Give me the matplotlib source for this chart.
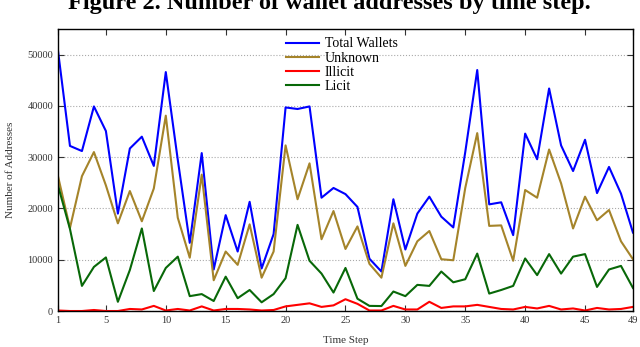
import matplotlib
matplotlib.use("Agg")
import matplotlib.pyplot as plt

steps = list(range(1, 50))

total = [50800, 32200, 31200, 39900, 35100, 19000, 31700, 34000, 28300, 46600,
         29500, 13300, 30800, 8100, 18700, 11600, 21300, 8300, 15000, 39700,
         39400, 39900, 22100, 24000, 22800, 20300, 10200, 7700, 21800, 12000,
         19000, 22300, 18400, 16300, 31000, 47000, 20800, 21200, 14800, 34600,
         29600, 43400, 32300, 27300, 33400, 23000, 28100, 22900, 15300]
unknown = [26300, 16200, 26300, 31000, 24500, 17100, 23400, 17500, 23900, 38100,
           18200, 10400, 26600, 6000, 11600, 9000, 16900, 6500, 11600, 32300,
           21800, 28800, 14000, 19500, 12100, 16500, 9200, 6500, 17100, 8800,
           13600, 15600, 10100, 9900, 24000, 34700, 16600, 16700, 9800, 23600,
           22100, 31500, 24900, 16100, 22300, 17700, 19700, 13600, 10100]
illicit = [100, 0, 0, 200, 0, 0, 400, 300, 1000, 100,
           400, 100, 900, 100, 400, 400, 300, 100, 200, 900,
           1200, 1500, 800, 1100, 2300, 1400, 100, 100, 1000, 300,
           300, 1800, 600, 900, 900, 1200, 800, 400, 300, 800,
           500, 1000, 300, 500, 100, 600, 300, 400, 800]
licit = [24500, 16000, 4900, 8600, 10450, 1800, 8000, 16100, 3900, 8400,
         10600, 2900, 3300, 1950, 6700, 2500, 4100, 1700, 3300, 6400,
         16800, 9800, 7300, 3600, 8400, 2400, 1000, 970, 3800, 2900,
         5100, 4900, 7700, 5600, 6200, 11200, 3400, 4100, 4900, 10250,
         7000, 11100, 7300, 10600, 11100, 4700, 8100, 8800, 4500]

x_ticks = [1, 5, 10, 15, 20, 25, 30, 35, 40, 45, 49]
y_ticks = [0, 10000, 20000, 30000, 40000, 50000]

plt.rcParams['font.family'] = ['Liberation Serif', 'DejaVu Serif']

fig = plt.figure(figsize=(6.4, 3.47), dpi=100)
ax = fig.add_axes([0.0906, 0.1037, 0.8984, 0.8127])

ax.plot(steps, total, color='#0000ff', lw=1.5, label='Total Wallets')
ax.plot(steps, unknown, color='#a5842a', lw=1.5, label='Unknown')
ax.plot(steps, illicit, color='#ff0000', lw=1.5, label='Illicit')
ax.plot(steps, licit, color='#086808', lw=1.5, label='Licit')

ax.set_xlim(1, 49)
ax.set_ylim(0, 55000)
ax.set_xticks(x_ticks)
ax.set_yticks(y_ticks)
ax.tick_params(direction='in', top=True, right=True, length=4, labelsize=7.5,
               colors='#333333')
for s in ax.spines.values():
    s.set_linewidth(1.0)
ax.yaxis.grid(True, linestyle=':', color='#aaaaaa', lw=0.8)
ax.set_axisbelow(True)

ax.set_xlabel('Time Step', fontsize=8, color='#333333', labelpad=8)
ax.set_ylabel('Number of Addresses', fontsize=8, color='#333333', labelpad=9)

ax.legend(loc='upper left', bbox_to_anchor=(0.436, 0.912), bbox_transform=fig.transFigure,
          frameon=False, fontsize=10, handlelength=2.4, handletextpad=0.4,
          labelspacing=0.08, borderpad=0)

fig.text(0.515, 1 - 9 / 347, 'Figure 2. Number of wallet addresses by time step.',
         ha='center', va='baseline', fontsize=17.5, fontweight='bold')

fig.savefig('out.png', dpi=100)
